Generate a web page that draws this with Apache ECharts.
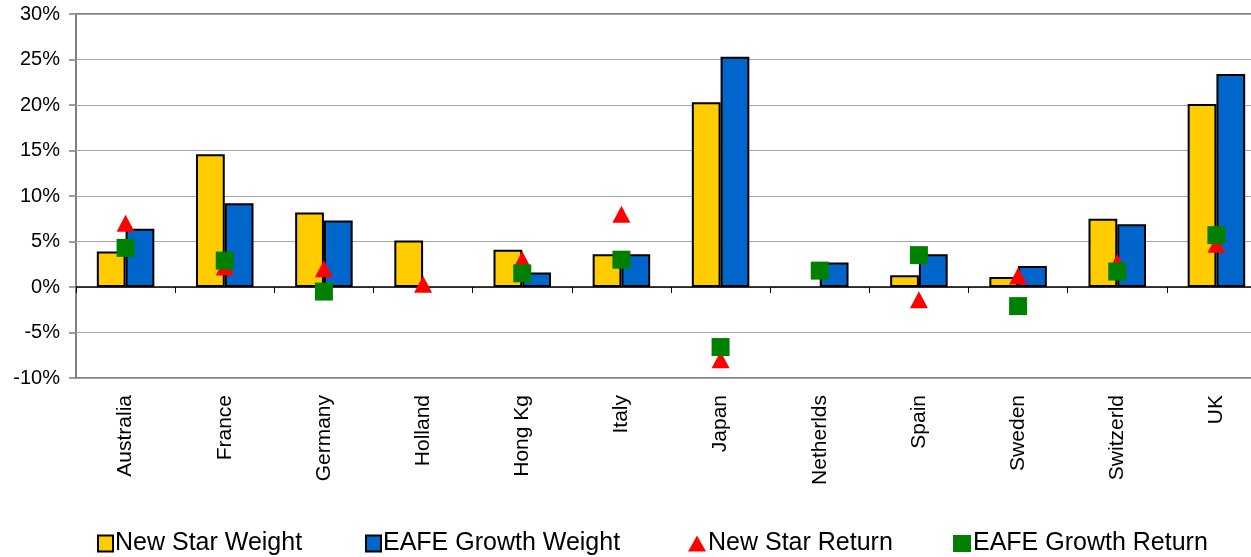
<!DOCTYPE html>
<html>
<head>
<meta charset="utf-8">
<script src="https://cdn.jsdelivr.net/npm/echarts@6/dist/echarts.min.js"></script>
<style>
html,body{margin:0;padding:0;background:#fff;}
#chart{width:1251px;height:557px;}
</style>
</head>
<body>
<div id="chart"></div>
<script>
const categories = ['Australia','France','Germany','Holland','Hong Kg','Italy','Japan','Netherlds','Spain','Sweden','Switzerld','UK'];
const newStarWeight = [3.9, 14.6, 8.2, 5.1, 4.1, 3.6, 20.3, null, 1.3, 1.1, 7.5, 20.1];
const eafeGrowthWeight = [6.4, 9.2, 7.3, null, 1.6, 3.6, 25.3, 2.7, 3.6, 2.3, 6.9, 23.4];
const newStarReturn = [7.0, 2.2, 2.0, 0.3, 3.0, 8.0, -8.0, null, -1.4, 1.2, 2.7, 4.7];
const eafeGrowthReturn = [4.3, 2.9, -0.5, null, 1.5, 3.0, -6.6, 1.8, 3.5, -2.1, 1.7, 5.7];
const seriesNames = ['New Star Weight','EAFE Growth Weight','New Star Return','EAFE Growth Return'];

const FONT = 'Liberation Sans, Arial, sans-serif';
const chart = echarts.init(document.getElementById('chart'), null, {renderer:'canvas'});

function legendAt(name, left, w, h) {
  return {
    data: [name], left: left, top: 531, itemWidth: w, itemHeight: h, padding: 0,
    textStyle: {fontFamily: FONT, fontSize: 25, color: '#000', padding: [0,0,0,-3]},
    selectedMode: false
  };
}

const option = {
  animation: false,
  backgroundColor: '#fff',
  legend: [
    Object.assign(legendAt(seriesNames[0], 97, 15, 16), {icon: 'rect'}),
    Object.assign(legendAt(seriesNames[1], 365, 15, 16), {icon: 'rect'}),
    legendAt(seriesNames[2], 688, 18, 16),
    legendAt(seriesNames[3], 953, 18, 17)
  ],
  grid: {
    left: 76, top: 14, right: -15, bottom: 179,
    outerBoundsMode: 'none', containLabel: false,
    show: true, borderColor: '#808080', borderWidth: 2, backgroundColor: 'transparent'
  },
  xAxis: [
    {
      type: 'category', data: categories, position: 'bottom',
      axisLine: {show: false, onZero: false},
      axisTick: {show: false},
      axisLabel: {rotate: 90, margin: 17, fontFamily: FONT, fontSize: 21, color: '#000'}
    },
    {
      type: 'category', data: categories, position: 'top',
      axisLine: {show: true, onZero: true, lineStyle: {color: '#000', width: 1.5}},
      axisTick: {show: true, inside: true, length: 6, lineStyle: {color: '#000', width: 1}},
      axisLabel: {show: false}
    }
  ],
  yAxis: {
    type: 'value', min: -10, max: 30, interval: 5,
    axisLine: {show: false},
    axisTick: {show: true, length: 7, lineStyle: {color: '#808080', width: 1.5}},
    axisLabel: {formatter: '{value}%', margin: 16, fontFamily: FONT, fontSize: 20, color: '#000'},
    splitLine: {show: true, lineStyle: {color: '#a6a6a6', width: 1}}
  },
  series: [
    {
      name: seriesNames[0], type: 'bar', xAxisIndex: 0, data: newStarWeight,
      barGap: '0%', barCategoryGap: '42%',
      itemStyle: {color: '#FFCC00', borderColor: '#000', borderWidth: 2}
    },
    {
      name: seriesNames[1], type: 'bar', xAxisIndex: 0, data: eafeGrowthWeight,
      barGap: '0%', barCategoryGap: '42%',
      itemStyle: {color: '#0066CC', borderColor: '#000', borderWidth: 2}
    },
    {
      name: seriesNames[2], type: 'scatter', xAxisIndex: 0, data: newStarReturn,
      symbol: 'triangle', symbolSize: [18, 17],
      itemStyle: {color: '#FF0000', opacity: 1}
    },
    {
      name: seriesNames[3], type: 'scatter', xAxisIndex: 0, data: eafeGrowthReturn,
      symbol: 'rect', symbolSize: [18, 18],
      itemStyle: {color: '#008000', opacity: 1}
    }
  ]
};
chart.setOption(option);
</script>
</body>
</html>
